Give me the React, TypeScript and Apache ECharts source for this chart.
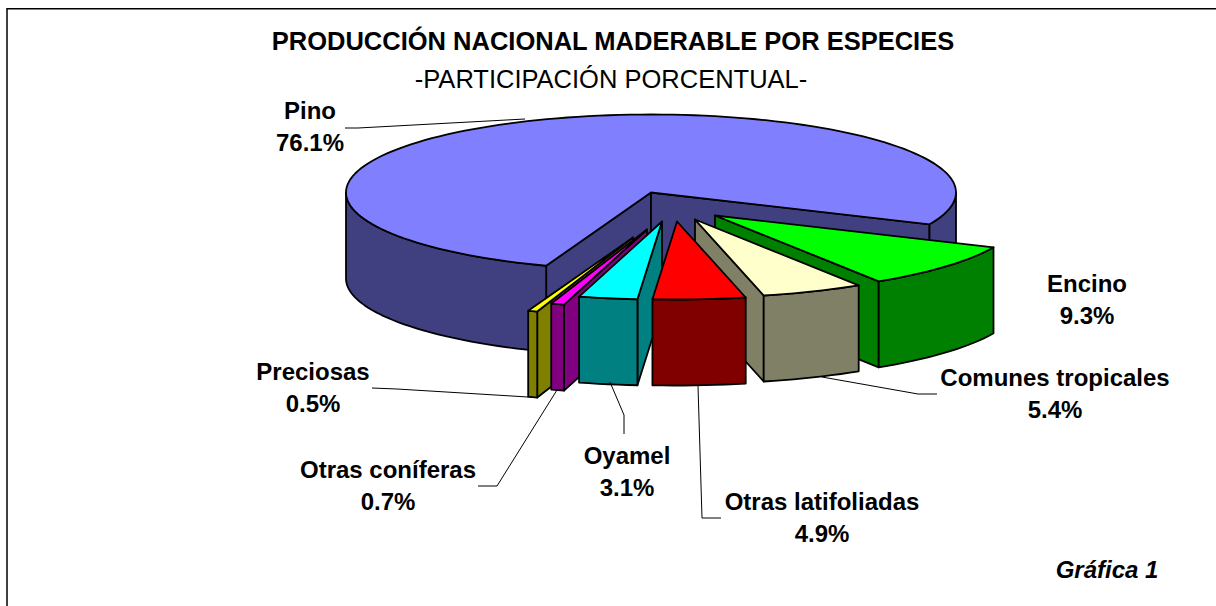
import React, { useEffect, useRef } from "react";
import * as echarts from "echarts";

const categories = ["Pino", "Encino", "Comunes tropicales", "Otras latifoliadas", "Oyamel", "Otras coníferas", "Preciosas"];
const shares = [76.1, 9.3, 5.4, 4.9, 3.1, 0.7, 0.5];
const topColors = ["#8080FF", "#00FF00", "#FFFFCC", "#FF0000", "#00FFFF", "#FF00FF", "#FFFF00"];
const sideColors = ["#404080", "#008000", "#808066", "#800000", "#008080", "#800080", "#808000"];
// Pixel offset of each exploded slice
const explode = [[0, 0], [64, 23], [44, 27], [26, 29], [11, 29], [-4, 37], [-18, 45]];
const paintOrder = [0, 1, 2, 6, 5, 4, 3];
const labelPos = [[310, 110], [1087, 283], [1055, 377], [822, 501], [627, 455], [388, 469], [313, 371]];
const leaders = [
  [[345, 128], [358, 128], [525, 119]],
  [[822, 377], [918, 394], [937, 394]],
  [[698, 386], [702, 518], [721, 518]],
  [[610, 382], [624, 415], [624, 434]],
  [[557, 390], [497, 486], [478, 486]],
  [[372, 388], [397, 389], [528, 397]],
];

const CX = 651, CY = 192.5, RX = 305, RY = 78, DEPTH = 86, START_DEG = 110.1;
const FONT = '"Liberation Sans", Arial, sans-serif';
const rad = (d: number) => (d * Math.PI) / 180;

function rim(cx: number, cy: number, from: number, to: number, dy = 0) {
  const pts: number[][] = [];
  const n = Math.max(2, Math.ceil((to - from) / 2));
  for (let i = 0; i <= n; i++) {
    const a = rad(from + ((to - from) * i) / n);
    pts.push([cx + RX * Math.cos(a), cy + RY * Math.sin(a) + dy]);
  }
  return pts;
}

function renderSlice(_: any, api: any) {
  const idx = api.value(0);
  const total = shares.reduce((a, b) => a + b, 0);
  const before = shares.slice(0, idx).reduce((a, b) => a + b, 0);
  const a1 = START_DEG + (before / total) * 360;
  const a2 = a1 + (shares[idx] / total) * 360;
  const cx = CX + explode[idx][0];
  const cy = CY + explode[idx][1];
  const side = { fill: sideColors[idx], stroke: "#000", lineWidth: 1.8, lineJoin: "round" };
  const children: any[] = [];
  const wall = (a: number) => {
    const p = [cx + RX * Math.cos(rad(a)), cy + RY * Math.sin(rad(a))];
    children.push({
      type: "polygon",
      shape: { points: [[cx, cy], p, [p[0], p[1] + DEPTH], [cx, cy + DEPTH]] },
      style: side,
    });
  };
  if (Math.cos(rad(a1)) < 0) wall(a1);
  if (Math.cos(rad(a2)) > 0) wall(a2);
  // Outer wall: only the arc facing the viewer (0..180 degrees, modulo a turn)
  [[0, 180], [360, 540]].forEach(([lo, hi]) => {
    const f = Math.max(a1, lo), t = Math.min(a2, hi);
    if (t > f) {
      const top = rim(cx, cy, f, t);
      const bottom = rim(cx, cy, f, t, DEPTH).reverse();
      children.push({ type: "polygon", shape: { points: top.concat(bottom) }, style: side });
    }
  });
  children.push({
    type: "polygon",
    shape: { points: [[cx, cy], ...rim(cx, cy, a1, a2)] },
    style: { fill: topColors[idx], stroke: "#000", lineWidth: 1.8, lineJoin: "round" },
  });
  return { type: "group", children };
}

function renderLabel(_: any, api: any) {
  const idx = api.value(0);
  return {
    type: "text",
    x: labelPos[idx][0],
    y: labelPos[idx][1] + 16,
    style: {
      text: `${categories[idx]}\n${shares[idx].toFixed(1)}%`,
      fill: "#000",
      font: `bold 24px ${FONT}`,
      lineHeight: 32,
      align: "center",
      verticalAlign: "middle",
    },
  };
}

export default function App() {
  const ref = useRef<HTMLDivElement>(null);
  useEffect(() => {
    document.body.style.margin = "0";
    const chart = echarts.init(ref.current!, null, { renderer: "svg" });
    chart.setOption({
      animation: false,
      backgroundColor: "#fff",
      title: [
        {
          text: "PRODUCCIÓN NACIONAL MADERABLE POR ESPECIES",
          left: 608,
          top: 23,
          textAlign: "center",
          textStyle: { fontFamily: FONT, fontWeight: "bold", fontSize: 25.5, color: "#000" },
        },
        {
          text: "-PARTICIPACIÓN PORCENTUAL-",
          left: 606,
          top: 61,
          textAlign: "center",
          textStyle: { fontFamily: FONT, fontWeight: "normal", fontSize: 25.5, color: "#000" },
        },
      ],
      graphic: [
        { type: "rect", z: -1, shape: { x: 7, y: 8.75, width: 1300, height: 700 }, style: { fill: "#fff", stroke: "#000", lineWidth: 1.5 } },
        ...leaders.map((points) => ({
          type: "polyline",
          z: 20,
          shape: { points },
          style: { stroke: "#000", lineWidth: 1, fill: "none" },
        })),
        {
          type: "text",
          z: 20,
          x: 1107,
          y: 569,
          style: { text: "Gráfica 1", fill: "#000", font: `italic bold 24px ${FONT}`, align: "center", verticalAlign: "middle" },
        },
      ],
      series: [
        {
          type: "custom",
          coordinateSystem: "none",
          renderItem: renderSlice,
          data: paintOrder.map((i) => [i]),
          silent: true,
          z: 5,
        },
        {
          type: "custom",
          coordinateSystem: "none",
          renderItem: renderLabel,
          data: categories.map((_, i) => [i]),
          silent: true,
          z: 30,
        },
      ],
    });
    return () => chart.dispose();
  }, []);
  return <div ref={ref} style={{ position: "fixed", left: 0, top: 0, width: 1216, height: 606 }} />;
}
